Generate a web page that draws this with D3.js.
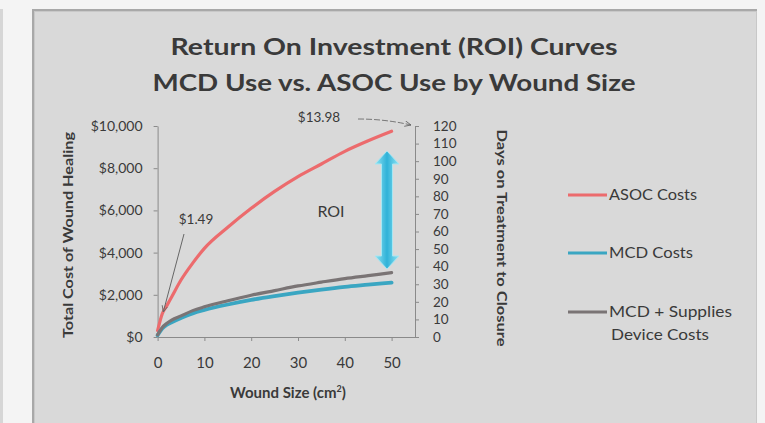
<!DOCTYPE html>
<html><head><meta charset="utf-8">
<script src="https://cdn.jsdelivr.net/npm/d3@7"></script>
<style>
html,body{margin:0;padding:0;background:#f4f4f4;}
svg{display:block;}
text{font-family:Lato,"Open Sans",sans-serif;fill:#3a3a3a;}
</style></head>
<body>
<svg id="c" width="765" height="423"></svg>
<script>
// ---- data ----
const woundSize = [0, 1, 2, 3, 5, 7.5, 10, 15, 20, 25, 30, 35, 40, 45, 50];
const asocCosts = [300, 1100, 1500, 1900, 2700, 3500, 4200, 5200, 6100, 6900, 7600, 8200, 8800, 9300, 9750];
const mcdCosts = [80, 400, 580, 700, 900, 1120, 1280, 1540, 1760, 1940, 2100, 2250, 2380, 2480, 2580];
const mcdSuppliesCosts = [100, 450, 650, 800, 1000, 1250, 1430, 1720, 1980, 2200, 2420, 2600, 2770, 2910, 3050];
const xTicks = [0, 10, 20, 30, 40, 50];
const costTicks = [0, 2000, 4000, 6000, 8000, 10000];
const dayTicks = [0, 10, 20, 30, 40, 50, 60, 70, 80, 90, 100, 110, 120];
const seriesNames = ["ASOC Costs", "MCD Costs", "MCD + Supplies|Device Costs"];
const titleLines = ["Return On Investment (ROI) Curves", "MCD Use vs. ASOC Use by Wound Size"];
const annotations = [{label: "$1.49", x: 2.2}, {label: "$13.98", x: 50}];

const svg = d3.select("#c");
const defs = svg.append("defs");

// background panels
svg.append("rect").attr("x",0).attr("y",9).attr("width",3).attr("height",414).attr("fill","#d6d6d6");
svg.append("rect").attr("x",32).attr("y",9).attr("width",725).attr("height",414).attr("fill","#a8a8a8");
svg.append("rect").attr("x",34).attr("y",11).attr("width",723).attr("height",412).attr("fill","#c8c8c8");
svg.append("rect").attr("x",35).attr("y",12).attr("width",721).attr("height",411).attr("fill","#d9d9d9");

// title
svg.append("text").attr("x",394).attr("y",55).attr("text-anchor","middle")
  .style("font-size","22px").style("font-weight","bold").attr("fill","#404040")
  .attr("textLength",447).attr("lengthAdjust","spacingAndGlyphs").text(titleLines[0]);
svg.append("text").attr("x",394).attr("y",91).attr("text-anchor","middle")
  .style("font-size","22px").style("font-weight","bold").attr("fill","#404040")
  .attr("textLength",483).attr("lengthAdjust","spacingAndGlyphs").text(titleLines[1]);

// scales
const x = d3.scaleLinear().domain([0, 55]).range([157.6, 415]);
const y = d3.scaleLinear().domain([0, 10000]).range([337, 126]);
const yDays = d3.scaleLinear().domain([0, 120]).range([337, 126]);

const axisColor = "#8a8a8a";
function styleAxis(g, fs){
  g.select(".domain").attr("stroke",axisColor);
  g.selectAll(".tick line").attr("stroke",axisColor);
  g.selectAll(".tick text").attr("fill","#4a4a4a").style("font-size",fs);
}

// left axis
const gl = svg.append("g").attr("transform","translate(157.6,0)")
  .call(d3.axisLeft(y).tickValues(costTicks).tickSize(4).tickSizeOuter(0).tickPadding(11)
    .tickFormat(d => "$" + d3.format(",")(d)));
styleAxis(gl, "14px");
// right axis
const gr = svg.append("g").attr("transform","translate(415,0)")
  .call(d3.axisRight(yDays).tickValues(dayTicks).tickSize(4).tickSizeOuter(0).tickPadding(14));
styleAxis(gr, "13.5px");
// bottom axis
const gb = svg.append("g").attr("transform","translate(0,337)")
  .call(d3.axisBottom(x).tickValues(xTicks).tickSize(4).tickSizeOuter(0).tickPadding(16));
styleAxis(gb, "15px");

// axis titles
svg.append("text").attr("transform","translate(73,235) rotate(-90)").attr("text-anchor","middle")
  .style("font-size","13.5px").style("font-weight","bold").attr("fill","#4a4a4a")
  .attr("textLength",206).attr("lengthAdjust","spacingAndGlyphs").text("Total Cost of Wound Healing");
svg.append("text").attr("transform","translate(497,238) rotate(90)").attr("text-anchor","middle")
  .style("font-size","13px").style("font-weight","bold").attr("fill","#3a3a3a")
  .attr("textLength",217).attr("lengthAdjust","spacingAndGlyphs").text("Days on Treatment  to Closure");
const xt = svg.append("text").attr("x",288).attr("y",398).attr("text-anchor","middle")
  .style("font-size","15px").style("font-weight","bold").attr("fill","#4a4a4a");
xt.append("tspan").text("Wound Size (cm");
xt.append("tspan").attr("dy",-6).style("font-size","9px").text("2");
xt.append("tspan").attr("dy",6).text(")");

// lines
const colors = ["#ec6b6d", "#3aa6c2", "#7a7475"];
const line = d3.line().x((d,i) => x(woundSize[i])).y(d => y(d)).curve(d3.curveMonotoneX);
[asocCosts, mcdCosts, mcdSuppliesCosts].forEach((s, k) => {
  svg.append("path").datum(s).attr("d", line).attr("fill","none")
    .attr("stroke", colors[k]).attr("stroke-width", k === 1 ? 3.8 : 3.2).attr("stroke-linecap","round");
});

// arrow marker
defs.append("marker").attr("id","ah").attr("viewBox","0 0 10 10").attr("refX",9).attr("refY",5)
  .attr("markerWidth",7).attr("markerHeight",7).attr("orient","auto")
  .append("path").attr("d","M0,1 L9,5 L0,9").attr("fill","none").attr("stroke","#666").attr("stroke-width",1.2);

// annotations
const a0 = annotations[0], a1 = annotations[1];
svg.append("text").attr("x",196).attr("y",224).attr("text-anchor","middle")
  .style("font-size","13.5px").attr("fill","#555").text(a0.label);
svg.append("line").attr("x1",184).attr("y1",234).attr("x2",x(1)+1).attr("y2",312)
  .attr("stroke","#666").attr("stroke-width",1).attr("marker-end","url(#ah)");
svg.append("text").attr("x",319).attr("y",122).attr("text-anchor","middle")
  .style("font-size","13.5px").attr("fill","#555").text(a1.label);
svg.append("path").attr("d","M358,119 Q385,119 411,125").attr("fill","none")
  .attr("stroke","#777").attr("stroke-width",1).attr("stroke-dasharray","6,2")
  .attr("marker-end","url(#ah)");

// ROI text
svg.append("text").attr("x",331).attr("y",217).attr("text-anchor","middle")
  .style("font-size","16px").attr("fill","#4a4a4a").text("ROI");

// double-headed arrow
const grad = defs.append("linearGradient").attr("id","ag").attr("x1","0").attr("x2","1").attr("y1","0").attr("y2","0");
grad.append("stop").attr("offset","0").attr("stop-color","#8fe3f3");
grad.append("stop").attr("offset","0.5").attr("stop-color","#2fb2d8");
grad.append("stop").attr("offset","1").attr("stop-color","#8fe3f3");
const arrX = 387, arrTop = 151, arrBot = 269, hw = 12, sw = 5.5, hh = 13;
svg.append("path")
  .attr("d", `M${arrX},${arrTop} L${arrX+hw},${arrTop+hh} L${arrX+sw},${arrTop+hh} L${arrX+sw},${arrBot-hh} L${arrX+hw},${arrBot-hh} L${arrX},${arrBot} L${arrX-hw},${arrBot-hh} L${arrX-sw},${arrBot-hh} L${arrX-sw},${arrTop+hh} L${arrX-hw},${arrTop+hh} Z`)
  .attr("fill","url(#ag)").attr("stroke","#a8e6f2").attr("stroke-width",1).attr("stroke-linejoin","round");

// legend
const legY = [195, 253, 312];
const legLen = [[88], [84], [123, 98]];
seriesNames.forEach((n, k) => {
  svg.append("line").attr("x1",568).attr("x2",607).attr("y1",legY[k]).attr("y2",legY[k])
    .attr("stroke",colors[k]).attr("stroke-width",3);
  const parts = n.split("|");
  parts.forEach((p, j) => {
    svg.append("text").attr("x", j === 0 ? 609 : 611).attr("y", legY[k] + 5 + j*23)
      .style("font-size","15px").attr("fill","#3e3e3e")
      .attr("textLength", legLen[k][j]).attr("lengthAdjust","spacingAndGlyphs").text(p);
  });
});
</script>
</body></html>
